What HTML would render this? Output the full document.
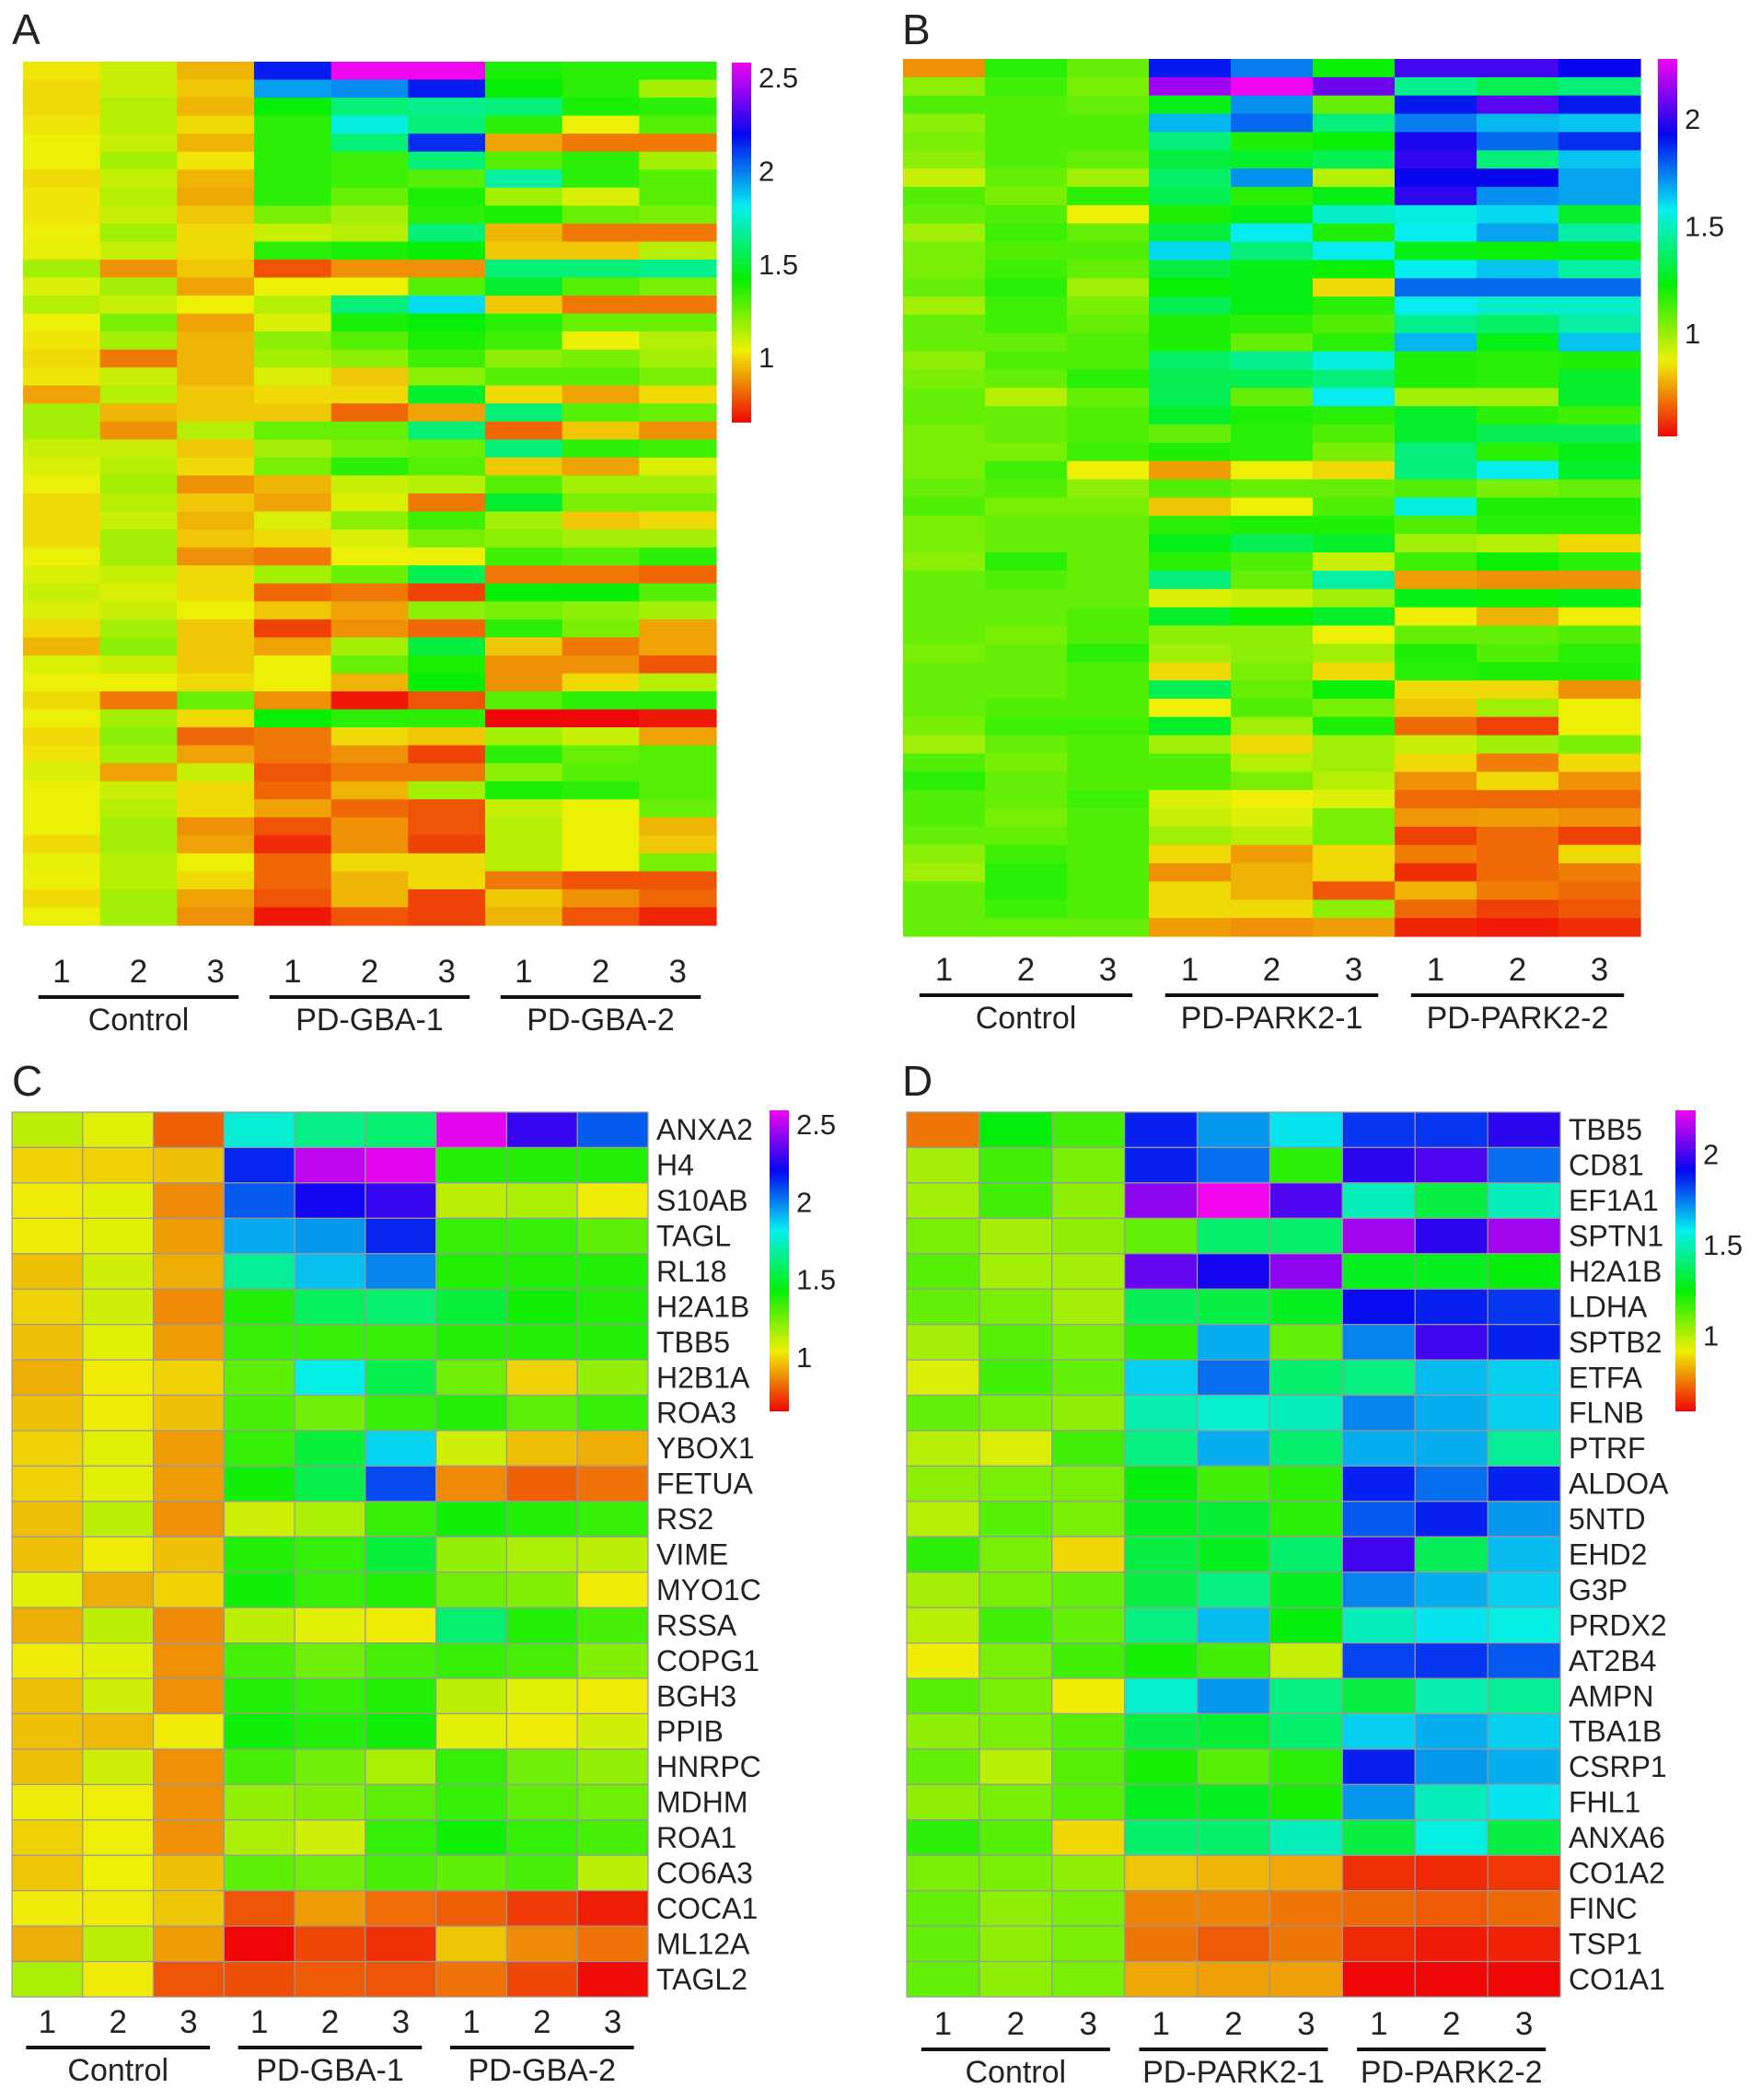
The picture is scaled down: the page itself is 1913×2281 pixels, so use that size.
<!DOCTYPE html>
<html><head><meta charset="utf-8"><style>
html,body{margin:0;padding:0;background:#fff;}
svg text{font-family:"Liberation Sans",Arial,sans-serif;fill:#222;}
</style></head>
<body>
<svg id="fig" width="1913" height="2276" viewBox="0 0 1913 2276" xmlns="http://www.w3.org/2000/svg">
<defs>
<linearGradient id="rainbow" x1="0" y1="1" x2="0" y2="0">
<stop offset="0" stop-color="hsl(0,95%,48%)"/><stop offset="0.2" stop-color="hsl(60,95%,48%)"/>
<stop offset="0.4" stop-color="hsl(120,95%,48%)"/><stop offset="0.6" stop-color="hsl(180,95%,48%)"/>
<stop offset="0.8" stop-color="hsl(240,95%,48%)"/><stop offset="1" stop-color="hsl(300,95%,48%)"/>
</linearGradient>
</defs>
</svg>
<script>
// ---- Panel A data (48 binned protein rows x 9 samples) ----
const valuesA = [
[1.02,1.10,0.94,2.16,2.58,2.58,1.39,1.36,1.36],
[1.00,1.10,0.97,1.94,1.97,2.16,1.42,1.36,1.16],
[1.00,1.13,0.94,1.42,1.61,1.65,1.61,1.39,1.36],
[1.02,1.13,1.00,1.36,1.78,1.61,1.36,1.04,1.29],
[1.04,1.10,0.94,1.36,1.61,2.13,0.91,0.84,0.84],
[1.04,1.16,1.02,1.36,1.33,1.61,1.29,1.36,1.16],
[1.00,1.10,0.94,1.36,1.33,1.29,1.68,1.36,1.29],
[1.02,1.13,0.92,1.36,1.26,1.39,1.16,1.07,1.29],
[1.02,1.10,0.97,1.23,1.16,1.36,1.39,1.26,1.23],
[1.04,1.16,1.00,1.10,1.13,1.61,0.94,0.84,0.84],
[1.05,1.10,1.00,1.36,1.39,1.42,0.97,0.97,1.13],
[1.16,0.88,0.97,0.78,0.88,0.88,1.61,1.61,1.65],
[1.07,1.16,0.91,1.04,1.04,1.29,1.49,1.29,1.23],
[1.13,1.10,1.04,1.13,1.61,1.84,0.97,0.84,0.84],
[1.04,1.23,0.91,1.07,1.39,1.42,1.36,1.26,1.26],
[1.02,1.16,0.94,1.20,1.29,1.39,1.33,1.04,1.13],
[1.00,0.84,0.94,1.16,1.20,1.33,1.20,1.23,1.16],
[1.02,1.10,0.94,1.07,0.97,1.20,1.29,1.29,1.23],
[0.91,1.13,0.97,1.00,1.00,1.49,1.00,0.91,1.00],
[1.16,0.94,0.97,0.97,0.81,0.91,1.61,1.29,1.26],
[1.16,0.88,1.13,1.26,1.26,1.61,0.81,0.97,0.88],
[1.10,1.10,0.97,1.16,1.23,1.26,1.61,1.36,1.33],
[1.07,1.13,1.00,1.23,1.36,1.29,0.97,0.91,1.07],
[1.04,1.16,0.88,0.94,1.10,1.13,1.29,1.16,1.16],
[1.00,1.13,0.97,0.91,1.07,0.84,1.49,1.23,1.23],
[1.00,1.10,0.94,1.07,1.20,1.33,1.16,0.97,1.00],
[1.00,1.16,0.97,1.00,1.07,1.23,1.20,1.16,1.16],
[1.04,1.16,0.88,0.84,1.04,1.04,1.33,1.29,1.36],
[1.07,1.10,1.00,1.16,1.26,1.55,0.84,0.84,0.81],
[1.10,1.07,1.00,0.81,0.84,0.75,1.42,1.42,1.29],
[1.07,1.10,1.04,0.97,0.91,1.20,1.23,1.20,1.16],
[1.00,1.16,0.97,0.75,0.88,0.81,1.36,1.23,0.91],
[0.94,1.20,0.97,0.91,1.16,1.52,0.97,0.84,0.91],
[1.07,1.10,0.97,1.04,1.26,1.39,0.88,0.88,0.78],
[1.04,1.04,1.00,1.04,0.94,1.42,0.88,1.00,1.13],
[1.00,0.84,1.26,0.88,0.68,0.78,1.29,1.36,1.36],
[1.04,1.16,1.00,1.42,1.36,1.36,0.65,0.65,0.68],
[1.00,1.20,0.81,0.84,1.00,0.97,1.16,1.10,0.91],
[1.02,1.16,0.91,0.84,0.88,0.75,1.36,1.26,1.29],
[1.07,0.91,1.10,0.78,0.84,0.84,1.20,1.29,1.29],
[1.04,1.10,1.00,0.81,0.94,1.16,1.39,1.36,1.29],
[1.04,1.13,1.00,0.91,0.81,0.78,1.10,1.04,1.26],
[1.04,1.16,0.88,0.78,0.88,0.78,1.13,1.04,0.94],
[1.00,1.16,0.91,0.71,0.88,0.75,1.13,1.04,0.97],
[1.05,1.13,1.04,0.81,1.00,1.00,1.13,1.04,1.23],
[1.04,1.13,1.00,0.81,0.94,1.00,0.84,0.78,0.78],
[1.00,1.16,0.91,0.78,0.94,0.75,0.97,0.88,0.81],
[1.04,1.16,0.88,0.68,0.78,0.75,0.94,0.78,0.70]
];
// ---- Panel B data ----
const valuesB = [
[0.73,1.17,1.08,1.90,1.75,1.22,2.02,2.02,1.93],
[1.02,1.14,1.05,2.16,2.28,2.08,1.43,1.34,1.40],
[1.11,1.11,1.08,1.25,1.72,1.08,1.90,2.05,1.90],
[1.02,1.11,1.11,1.66,1.78,1.40,1.75,1.66,1.64],
[1.05,1.11,1.11,1.40,1.19,1.22,1.96,1.78,1.87],
[1.02,1.11,1.08,1.31,1.28,1.34,1.99,1.40,1.64],
[0.93,1.08,0.99,1.37,1.72,0.96,1.93,1.93,1.69],
[1.11,1.05,1.17,1.34,1.17,1.25,1.99,1.72,1.69],
[1.08,1.11,0.87,1.19,1.25,1.52,1.55,1.61,1.28],
[0.99,1.14,1.08,1.31,1.58,1.19,1.58,1.69,1.46],
[1.05,1.11,1.11,1.61,1.40,1.58,1.25,1.22,1.25],
[1.05,1.14,1.08,1.31,1.25,1.22,1.58,1.64,1.46],
[1.08,1.17,0.99,1.22,1.25,0.84,1.78,1.78,1.78],
[0.99,1.14,1.05,1.34,1.25,1.17,1.58,1.52,1.52],
[1.08,1.14,1.08,1.19,1.17,1.11,1.43,1.37,1.46],
[1.08,1.08,1.11,1.19,1.08,1.17,1.66,1.25,1.64],
[1.02,1.11,1.11,1.37,1.43,1.55,1.19,1.17,1.19],
[1.05,1.08,1.17,1.34,1.34,1.40,1.19,1.17,1.28],
[1.08,0.96,1.08,1.34,1.08,1.58,0.99,0.99,1.28],
[1.08,1.08,1.11,1.28,1.19,1.17,1.28,1.17,1.14],
[1.05,1.08,1.11,1.08,1.17,1.11,1.28,1.34,1.34],
[1.05,1.05,1.14,1.19,1.17,1.05,1.40,1.17,1.25],
[1.05,1.14,0.87,0.75,0.87,0.84,1.40,1.58,1.28],
[1.08,1.11,1.02,1.11,1.08,1.08,1.11,1.05,1.08],
[1.11,1.05,1.05,0.81,0.87,1.11,1.55,1.19,1.19],
[1.05,1.08,1.08,1.17,1.19,1.19,1.11,1.17,1.17],
[1.05,1.08,1.08,1.25,1.34,1.28,0.99,0.96,0.84],
[1.02,1.17,1.08,1.17,1.11,0.93,1.14,1.22,1.17],
[1.08,1.11,1.08,1.40,1.08,1.46,0.75,0.73,0.73],
[1.08,1.08,1.08,0.90,0.93,0.99,1.25,1.22,1.25],
[1.08,1.08,1.11,1.28,1.22,1.28,0.87,0.78,0.87],
[1.08,1.05,1.11,1.02,1.02,0.87,1.08,1.08,1.11],
[1.05,1.08,1.17,0.99,1.02,0.99,1.19,1.11,1.17],
[1.08,1.08,1.11,0.84,1.05,0.84,1.17,1.19,1.19],
[1.08,1.08,1.11,1.34,1.08,1.22,0.84,0.84,0.73],
[1.08,1.11,1.11,0.87,1.11,1.05,0.81,0.99,0.87],
[1.05,1.14,1.14,1.28,0.99,1.19,0.67,0.61,0.87],
[0.99,1.08,1.11,0.99,0.84,0.99,0.93,0.99,1.05],
[1.11,1.05,1.11,1.11,0.96,0.99,0.84,0.70,0.84],
[1.17,1.08,1.11,1.11,1.05,0.96,0.73,0.84,0.73],
[1.11,1.08,1.14,0.90,0.87,0.90,0.67,0.67,0.67],
[1.11,1.05,1.11,0.93,0.90,1.05,0.74,0.75,0.73],
[1.08,1.08,1.11,0.99,0.96,1.05,0.61,0.67,0.61],
[1.02,1.14,1.11,0.84,0.75,0.84,0.70,0.67,0.84],
[0.99,1.17,1.11,0.73,0.78,0.84,0.58,0.67,0.70],
[1.08,1.17,1.11,0.84,0.78,0.64,0.78,0.70,0.67],
[1.08,1.14,1.11,0.84,0.84,1.02,0.67,0.61,0.64],
[1.08,1.08,1.08,0.75,0.73,0.75,0.57,0.55,0.58]
];
// ---- Panel C data ----
const proteinsC = ["ANXA2","H4","S10AB","TAGL","RL18","H2A1B","TBB5","H2B1A","ROA3","YBOX1","FETUA","RS2","VIME","MYO1C","RSSA","COPG1","BGH3","PPIB","HNRPC","MDHM","ROA1","CO6A3","COCA1","ML12A","TAGL2"];
const valuesC = [
[1.12,1.06,0.80,1.77,1.64,1.60,2.57,2.28,2.06],
[0.99,0.99,0.96,2.15,2.51,2.57,1.38,1.38,1.38],
[1.03,1.06,0.87,2.06,2.22,2.28,1.12,1.15,1.03],
[1.03,1.06,0.90,1.93,1.96,2.15,1.35,1.35,1.28],
[0.96,1.09,0.93,1.67,1.89,1.99,1.38,1.38,1.38],
[0.99,1.09,0.87,1.38,1.57,1.60,1.51,1.41,1.38],
[0.96,1.06,0.90,1.35,1.35,1.35,1.38,1.38,1.38],
[0.93,1.03,0.99,1.28,1.80,1.54,1.25,0.99,1.19],
[0.96,1.03,0.96,1.32,1.25,1.35,1.38,1.28,1.35],
[0.99,1.06,0.90,1.35,1.51,1.86,1.09,0.96,0.93],
[0.99,1.06,0.90,1.41,1.54,2.09,0.87,0.80,0.83],
[0.96,1.12,0.88,1.09,1.15,1.35,1.41,1.38,1.35],
[0.96,1.03,0.96,1.38,1.35,1.51,1.19,1.15,1.12],
[1.06,0.93,0.99,1.41,1.35,1.38,1.25,1.22,1.03],
[0.93,1.12,0.87,1.12,1.06,1.03,1.60,1.38,1.32],
[1.03,1.06,0.88,1.32,1.25,1.32,1.35,1.32,1.22],
[0.96,1.09,0.88,1.38,1.35,1.38,1.12,1.06,1.03],
[0.96,0.95,1.03,1.41,1.38,1.41,1.06,1.03,1.09],
[0.96,1.09,0.88,1.32,1.25,1.15,1.35,1.25,1.19],
[1.03,1.04,0.88,1.19,1.22,1.28,1.35,1.28,1.25],
[0.99,1.04,0.88,1.15,1.09,1.35,1.41,1.35,1.32],
[0.97,1.04,0.96,1.28,1.25,1.32,1.28,1.32,1.12],
[1.03,1.03,0.97,0.78,0.90,0.82,0.80,0.74,0.69],
[0.93,1.12,0.90,0.64,0.76,0.72,0.97,0.87,0.83],
[1.15,1.03,0.78,0.77,0.79,0.78,0.83,0.76,0.66]
];
// ---- Panel D data ----
const proteinsD = ["TBB5","CD81","EF1A1","SPTN1","H2A1B","LDHA","SPTB2","ETFA","FLNB","PTRF","ALDOA","5NTD","EHD2","G3P","PRDX2","AT2B4","AMPN","TBA1B","CSRP1","FHL1","ANXA6","CO1A2","FINC","TSP1","CO1A1"];
const valuesD = [
[0.74,1.25,1.16,1.87,1.70,1.59,1.84,1.84,1.96],
[1.02,1.16,1.08,1.87,1.76,1.19,1.96,2.01,1.76],
[1.02,1.16,1.05,2.10,2.24,2.01,1.50,1.33,1.50],
[1.08,1.02,1.05,1.11,1.39,1.39,2.13,1.96,2.13],
[1.13,1.02,1.02,2.04,1.93,2.10,1.28,1.28,1.25],
[1.11,1.08,1.02,1.36,1.33,1.28,1.90,1.87,1.84],
[1.02,1.13,1.08,1.19,1.67,1.11,1.73,1.99,1.87],
[0.94,1.16,1.11,1.62,1.76,1.39,1.42,1.65,1.62],
[1.11,1.08,1.05,1.48,1.53,1.50,1.73,1.67,1.62],
[0.99,0.94,1.16,1.42,1.67,1.39,1.67,1.67,1.45],
[1.05,1.08,1.08,1.25,1.16,1.19,1.87,1.76,1.87],
[0.99,1.13,1.08,1.28,1.31,1.19,1.79,1.87,1.70],
[1.19,1.08,0.88,1.33,1.28,1.39,1.99,1.36,1.65],
[1.02,1.08,1.11,1.33,1.42,1.28,1.73,1.67,1.62],
[0.99,1.16,1.11,1.42,1.65,1.25,1.50,1.59,1.56],
[0.91,1.08,1.16,1.22,1.16,0.97,1.82,1.84,1.79],
[1.13,1.08,0.91,1.53,1.70,1.42,1.33,1.48,1.45],
[1.05,1.08,1.13,1.33,1.31,1.39,1.62,1.67,1.62],
[1.11,0.99,1.13,1.22,1.13,1.19,1.87,1.70,1.67],
[1.05,1.08,1.13,1.28,1.28,1.22,1.70,1.50,1.59],
[1.19,1.13,0.88,1.39,1.39,1.50,1.33,1.56,1.33],
[1.08,1.08,1.05,0.85,0.83,0.81,0.64,0.63,0.65],
[1.11,1.05,1.08,0.76,0.76,0.74,0.72,0.70,0.72],
[1.11,1.05,1.08,0.74,0.70,0.74,0.63,0.61,0.62],
[1.11,1.05,1.08,0.81,0.80,0.80,0.55,0.54,0.55]
];
const sampleLabels = ["1","2","3","1","2","3","1","2","3"];
const groupsGBA = ["Control","PD-GBA-1","PD-GBA-2"];
const groupsPARK = ["Control","PD-PARK2-1","PD-PARK2-2"];
const ticksAC = [1,1.5,2,2.5];
const ticksBD = [1,1.5,2];

const NS="http://www.w3.org/2000/svg";
const svg=document.getElementById('fig');
function mk(tag,attrs,parent,text){const e=document.createElementNS(NS,tag);for(const k in attrs)e.setAttribute(k,attrs[k]);if(text!==undefined)e.textContent=text;(parent||svg).appendChild(e);return e;}
function colorFor(v,vmin,vmax){let t=(v-vmin)/(vmax-vmin);t=Math.max(0,Math.min(1,t));return 'hsl('+(t*300).toFixed(1)+',95%,48%)';}

function panel(cfg){
  const g=mk('g',{});
  
  
  const letter=mk('text',{x:cfg.letterX,y:cfg.letterY,'font-size':46},g,cfg.letter);
  
  
  const nr=cfg.data.length,nc=9;
  const cw=(cfg.x1-cfg.x0)/nc,rh=(cfg.y1-cfg.y0)/nr;
  const cells=mk('g',{},g);
  
  
  for(let r=0;r<nr;r++)for(let c=0;c<nc;c++){
    const a={x:(cfg.x0+c*cw).toFixed(2),y:(cfg.y0+r*rh).toFixed(2),width:(cw+(cfg.border?0:0.6)).toFixed(2),height:(rh+(cfg.border?0:0.6)).toFixed(2),fill:colorFor(cfg.data[r][c],cfg.vmin,cfg.vmax)};
    if(cfg.border){a.stroke='#9a9a9a';a['stroke-width']=1.2;}
    const rect=mk('rect',a,cells);
    
    
  }
  if(cfg.rowLabels){
    cfg.rowLabels.forEach((lab,r)=>{
      const t=mk('text',{x:cfg.x1+9,y:(cfg.y0+(r+0.5)*rh+11).toFixed(1),'font-size':32},g,lab);
      
      
    });
  }
  const cb=mk('rect',{x:cfg.cbX,y:cfg.cbY0,width:cfg.cbW,height:cfg.cbY1-cfg.cbY0,fill:'url(#rainbow)'},g);
  
  
  cfg.ticks.forEach(v=>{
    const y=cfg.cbY1-(v-cfg.vmin)/(cfg.vmax-cfg.vmin)*(cfg.cbY1-cfg.cbY0);
    const t=mk('text',{x:cfg.cbX+cfg.cbW+8,y:(y+11).toFixed(1),'font-size':31},g,String(v));
    
    
  });
  sampleLabels.forEach((s,c)=>{
    const t=mk('text',{x:(cfg.x0+(c+0.5)*cw).toFixed(1),y:cfg.lineY-16,'font-size':35,'text-anchor':'middle'},g,s);
    
    
  });
  cfg.groups.forEach((gn,i)=>{
    const gx0=cfg.x0+i*3*cw,gx1=gx0+3*cw;
    const ln=mk('line',{x1:gx0+cw*0.2,x2:gx1-cw*0.2,y1:cfg.lineY,y2:cfg.lineY,stroke:'#111','stroke-width':4},g);
    
    
    const t=mk('text',{x:((gx0+gx1)/2).toFixed(1),y:cfg.lineY+36,'font-size':34,'text-anchor':'middle'},g,gn);
    
    
  });
}

panel({name:'panel-a',letter:'A',letterX:13,letterY:48,data:valuesA,x0:25,x1:778,y0:67,y1:1005,vmin:0.65,vmax:2.58,border:false,
  cbX:795,cbW:21,cbY0:68,cbY1:459,ticks:ticksAC,lineY:1083,groups:groupsGBA});
panel({name:'panel-b',letter:'B',letterX:980,letterY:48,data:valuesB,x0:981,x1:1782,y0:64,y1:1017,vmin:0.52,vmax:2.28,border:false,
  cbX:1801,cbW:21,cbY0:64,cbY1:474,ticks:ticksBD,lineY:1081,groups:groupsPARK});
panel({name:'panel-c',letter:'C',letterX:13,letterY:1190,data:valuesC,rowLabels:proteinsC,x0:13,x1:704,y0:1208,y1:2169,vmin:0.65,vmax:2.59,border:true,
  cbX:836,cbW:21,cbY0:1206,cbY1:1533,ticks:ticksAC,lineY:2224,groups:groupsGBA});
panel({name:'panel-d',letter:'D',letterX:980,letterY:1190,data:valuesD,rowLabels:proteinsD,x0:985,x1:1695,y0:1208,y1:2169,vmin:0.58,vmax:2.24,border:true,
  cbX:1820,cbW:22,cbY0:1206,cbY1:1533,ticks:ticksBD,lineY:2226,groups:groupsPARK});
</script>
</body></html>
